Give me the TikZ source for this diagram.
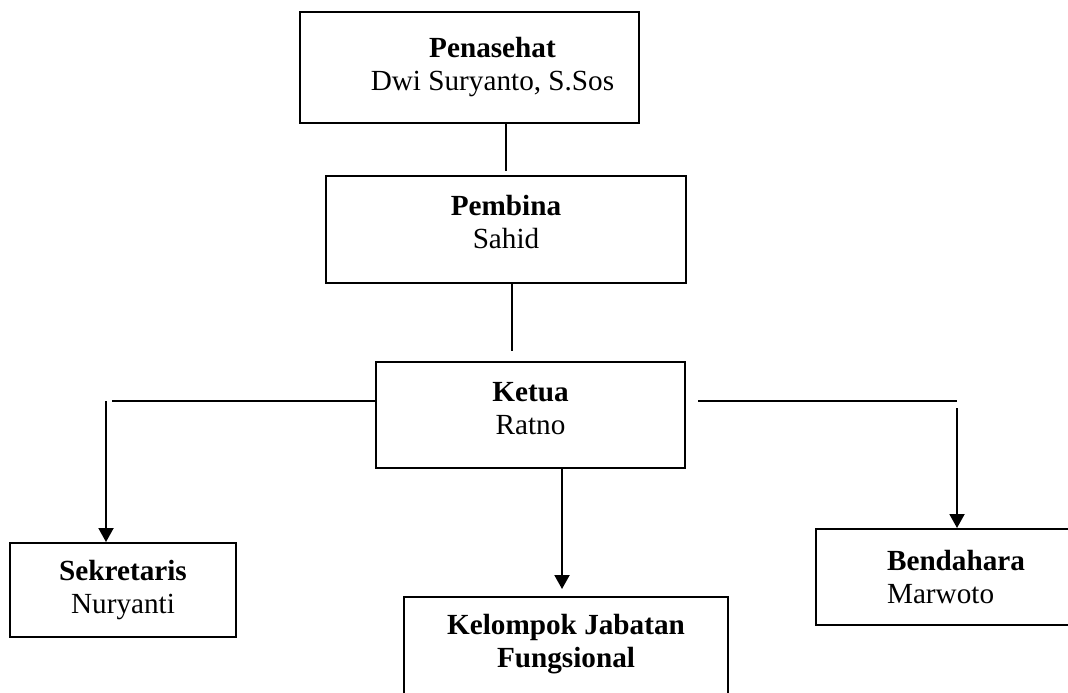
\documentclass[tikz,border=0pt]{standalone}
\usepackage{fontspec}
\setmainfont{Liberation Serif}
\usetikzlibrary{arrows.meta}

\begin{document}
\begin{tikzpicture}[x=0.5pt,y=-0.5pt,
  unit/.style={draw, line width=1pt, inner sep=0pt},
  lbl/.style={align=center, inner sep=0pt, font=\fontsize{14.6}{16.5}\selectfont},
  link/.style={line width=1pt},
  down/.style={link, -{Triangle[width=7.5pt,length=7pt]}}]
\useasboundingbox (0,0) rectangle (1068,692);
% boxes
\node[unit, minimum width=169.5pt, minimum height=55.5pt] (pen) at (469.5,67.5) {};
\node[unit, minimum width=180pt, minimum height=53.5pt] (pem) at (506,229.5) {};
\node[unit, minimum width=154.5pt, minimum height=53pt] (ket) at (530.5,415) {};
\node[unit, minimum width=113pt, minimum height=47pt] (sek) at (123,590) {};
\node[unit, minimum width=162pt, minimum height=51.5pt] (kel) at (566,648.5) {};
\node[unit, minimum width=140pt, minimum height=48pt] (ben) at (956,577) {};
% texts
\node[lbl] (pen-t) at ([xshift=11.5pt]pen.center) {\textbf{Penasehat}\\Dwi Suryanto, S.Sos};
\node[lbl] (pem-t) at ([yshift=3.5pt]pem.center) {\textbf{Pembina}\\Sahid};
\node[lbl] (ket-t) at ([yshift=3pt]ket.center) {\textbf{Ketua}\\Ratno};
\node[lbl] (sek-t) at (sek.center) {\textbf{Sekretaris}\\Nuryanti};
\node[lbl] (kel-t) at ([yshift=2.25pt]kel.center) {\textbf{Kelompok Jabatan}\\\textbf{Fungsional}};
\node[lbl, align=left] (ben-t) at (ben.center) {\textbf{Bendahara}\\Marwoto};
% connectors
\coordinate (lft) at (106,401);
\coordinate (rgt) at (957,401);
\coordinate (mid) at (562,468);
\draw[link, shorten <=2pt] (pem.north) -- (pem.north |- pen.south);
\draw[link, shorten >=5pt] ([xshift=3pt]pem.south) -- ([xshift=3pt]pem.south |- ket.north);
\draw[link, shorten >=3pt] (lft -| ket.west) -- (lft);
\draw[down] (lft) -- (lft |- sek.north);
\draw[link, shorten <=6pt] (rgt -| ket.east) -- (rgt);
\draw[down, shorten <=3.5pt] (rgt) -- (rgt |- ben.north);
\draw[down, shorten >=3.5pt] (mid) -- (mid |- kel.north);
\end{tikzpicture}
\end{document}
